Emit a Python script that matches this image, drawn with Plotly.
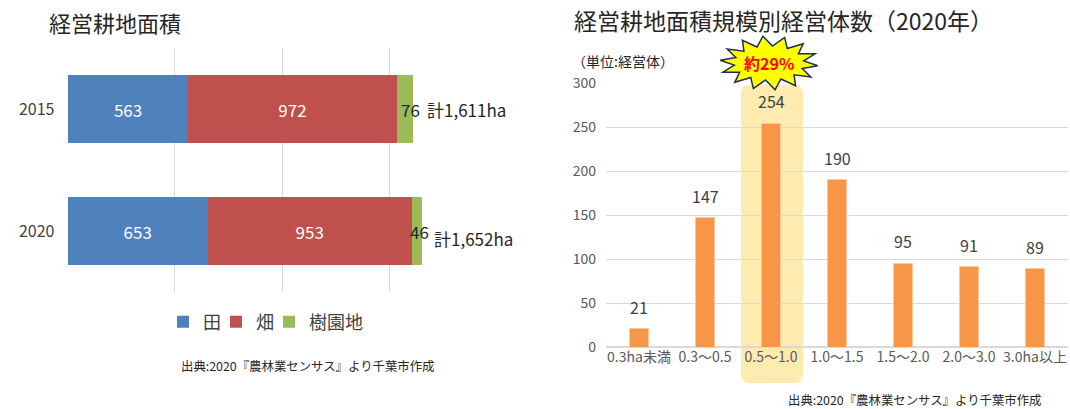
import numpy as np
import plotly.graph_objects as go

# ---------------- data ----------------
years = ["2015", "2020"]
ta_vals = [563, 653]        # 田
hata_vals = [972, 953]      # 畑
juen_vals = [76, 46]        # 樹園地
series_names = ["田", "畑", "樹園地"]

size_cats = ["0.3ha未満", "0.3～0.5", "0.5～1.0", "1.0～1.5", "1.5～2.0", "2.0～3.0", "3.0ha以上"]
counts = [21, 147, 254, 190, 95, 91, 89]

left_title = "経営耕地面積"
right_title = "経営耕地面積規模別経営体数（2020年）"
unit_label = "（単位:経営体）"
source_text = "出典:2020『農林業センサス』より千葉市作成"
burst_text = "約29%"

W, H = 1070, 409
FONT = "Noto Sans CJK JP"


def px(x):
    return x / W


def py(y):
    return 1 - y / H


fig = go.Figure()

colors = ["#4F81BD", "#C0504D", "#9BBB59"]
for name, vals, col, show in zip(series_names, [ta_vals, hata_vals, juen_vals], colors, [True, True, False]):
    fig.add_trace(go.Bar(
        y=years, x=vals, name=name, orientation="h",
        marker=dict(color=col, line=dict(width=0)),
        text=[str(v) for v in vals] if show else None,
        textposition="inside", insidetextanchor="middle",
        textfont=dict(color="white", size=17, family=FONT),
        xaxis="x", yaxis="y", hoverinfo="skip",
    ))
# spacer legend entry (no data, transparent) so the compact legend is not clipped
fig.add_trace(go.Bar(
    y=[None], x=[None], name=" ", orientation="h",
    marker=dict(color="rgba(0,0,0,0)", line=dict(width=0)),
    xaxis="x", yaxis="y", hoverinfo="skip", showlegend=True,
))

fig.add_trace(go.Bar(
    x=size_cats, y=counts, marker=dict(color="#F79646", line=dict(color="#FBC79E", width=1)),
    width=0.3, xaxis="x2", yaxis="y2", showlegend=False, hoverinfo="skip",
))

annotations = []
# green value labels and totals
for i, (yr, a, b, c) in enumerate(zip(years, ta_vals, hata_vals, juen_vals)):
    tot = a + b + c
    annotations.append(dict(x=tot, y=i, xref="x", yref="y", text=str(c), showarrow=False,
                            xanchor="right", xshift=9,
                            font=dict(size=17, color="#262626", family=FONT)))
    annotations.append(dict(x=tot, y=i, xref="x", yref="y", text=f"計{tot:,}ha", showarrow=False,
                            xanchor="left", xshift=12 if i == 0 else 10,
                            yshift=0 if i == 0 else -7,
                            font=dict(size=17, color="#262626", family=FONT)))
# right bar labels
for cat, v in zip(size_cats, counts):
    annotations.append(dict(x=cat, y=v, xref="x2", yref="y2", text=str(v), showarrow=False,
                            yanchor="bottom", yshift=8,
                            font=dict(size=16, color="#404040", family=FONT)))
# titles and texts
annotations += [
    dict(x=px(47), y=py(22), xref="paper", yref="paper", text=left_title, showarrow=False,
         xanchor="left", yanchor="middle", font=dict(size=22, color="#262626", family=FONT)),
    dict(x=px(572), y=py(20), xref="paper", yref="paper", text=right_title, showarrow=False,
         xanchor="left", yanchor="middle", font=dict(size=23, color="#262626", family=FONT)),
    dict(x=px(570), y=py(61), xref="paper", yref="paper", text=unit_label, showarrow=False,
         xanchor="left", yanchor="middle", font=dict(size=14, color="#262626", family=FONT)),
    dict(x=px(179), y=py(366), xref="paper", yref="paper", text=source_text, showarrow=False,
         xanchor="left", yanchor="middle", font=dict(size=12.4, color="#262626", family=FONT)),
    dict(x=px(786), y=py(400), xref="paper", yref="paper", text=source_text, showarrow=False,
         xanchor="left", yanchor="middle", font=dict(size=12.4, color="#262626", family=FONT)),
    dict(x=px(769), y=py(63), xref="paper", yref="paper", text=f"<b>{burst_text}</b>", showarrow=False,
         xanchor="center", yanchor="middle", font=dict(size=16, color="#FF0000", family=FONT)),
]

shapes = []
# highlight column (rounded rectangle)
x0, x1, y0, y1, r = 741, 803, 85, 383, 9
rx, ry = r / W, r / H
p = (f"M {px(x0)+rx},{py(y0)} L {px(x1)-rx},{py(y0)} Q {px(x1)},{py(y0)} {px(x1)},{py(y0)-ry} "
     f"L {px(x1)},{py(y1)+ry} Q {px(x1)},{py(y1)} {px(x1)-rx},{py(y1)} "
     f"L {px(x0)+rx},{py(y1)} Q {px(x0)},{py(y1)} {px(x0)},{py(y1)+ry} "
     f"L {px(x0)},{py(y0)-ry} Q {px(x0)},{py(y0)} {px(x0)+rx},{py(y0)} Z")
shapes.append(dict(type="path", path=p, xref="paper", yref="paper", layer="below",
                   fillcolor="#FFEAB0", line=dict(width=0)))
# starburst
cx, cy = 769, 63
n = 14
pts = []
for i in range(2 * n):
    ang = np.pi * i / n + 0.1
    if i % 2 == 0:
        rxx, ryy = 49, 27
    else:
        rxx, ryy = 35, 17
    pts.append((cx + rxx * np.cos(ang), cy + ryy * np.sin(ang)))
sp = "M " + " L ".join(f"{px(a):.5f},{py(b):.5f}" for a, b in pts) + " Z"
shapes.append(dict(type="path", path=sp, xref="paper", yref="paper", layer="above",
                   fillcolor="#FFFF00", line=dict(color="#1F2D50", width=1.5)))

fig.update_layout(
    width=W, height=H, margin=dict(l=0, r=0, t=0, b=0, autoexpand=False),
    paper_bgcolor="white", plot_bgcolor="white",
    barmode="stack", bargap=0.44,
    font=dict(family=FONT, color="#595959"),
    xaxis=dict(domain=[px(67.5), px(496.5)], range=[-1, 2001], tick0=0, dtick=500, showticklabels=False,
               showgrid=True, gridcolor="#D9D9D9", gridwidth=1, zeroline=False,
               showline=False, ticks=""),
    yaxis=dict(domain=[py(292), py(48)], type="category", range=[1.5, -0.5],
               showgrid=False, zeroline=False,
               ticks="", ticklabelstandoff=12,
               tickfont=dict(size=16, color="#404040", family=FONT)),
    xaxis2=dict(domain=[px(606), px(1068)], type="category", showgrid=False, zeroline=False, ticks="",
                anchor="y2", tickfont=dict(size=14, color="#595959", family=FONT)),
    yaxis2=dict(domain=[py(347), py(83)], range=[0, 300], dtick=50, anchor="x2",
                showgrid=True, gridcolor="#D9D9D9", zeroline=True, zerolinecolor="#D9D9D9",
                ticks="", ticklabelstandoff=9,
                tickfont=dict(size=14, color="#595959", family=FONT)),
    legend=dict(orientation="h", x=px(163), y=py(322), xanchor="left", yanchor="middle",
                font=dict(size=18, color="#404040", family=FONT), traceorder="normal",
                itemwidth=30, entrywidth=8),
    annotations=annotations, shapes=shapes,
)

fig.write_html("out.html")
